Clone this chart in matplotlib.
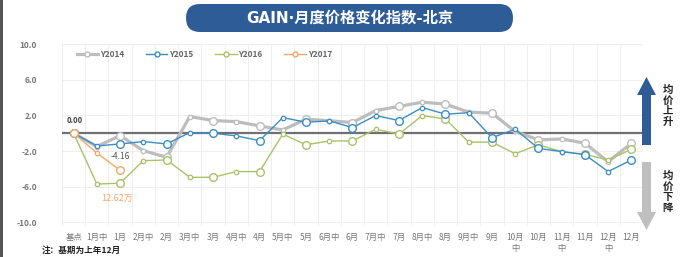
import matplotlib
matplotlib.use('Agg')
import matplotlib.pyplot as plt
from matplotlib.patches import FancyBboxPatch, FancyArrow, Rectangle
from matplotlib.lines import Line2D

plt.rcParams['font.family'] = ['Noto Sans CJK SC', 'DejaVu Sans']

# ── 数据 ──
categories = ['基点', '1月中', '1月', '2月中', '2月', '3月中', '3月', '4月中', '4月',
              '5月中', '5月', '6月中', '6月', '7月中', '7月', '8月中', '8月', '9月中',
              '9月', '10月\n中', '10月', '11月\n中', '11月', '12月\n中', '12月']
y2014 = [0, -1.5, -0.27, -1.95, -2.7, 1.87, 1.42, 1.3, 0.82, 0.37, 1.57, 1.4, 1.2,
         2.54, 3.0, 3.48, 3.26, 2.36, 2.25, 0.2, -0.75, -0.64, -1.12, -3.2, -1.12]
y2015 = [0, -1.43, -1.2, -0.94, -1.2, 0.07, 0.0, -0.3, -0.83, 1.75, 1.23, 1.38, 0.63,
         1.98, 1.42, 2.88, 2.13, 2.3, -0.5, 0.45, -1.7, -2.06, -2.4, -4.3, -3.0]
y2016 = [0, -5.7, -5.6, -3.08, -3.0, -4.94, -4.94, -4.3, -4.3, -0.1, -1.3, -0.87, -0.87,
         0.45, -0.1, 1.98, 1.6, -1.0, -1.0, -2.3, -1.3, -2.06, -2.36, -3.0, -1.8]
y2017 = [0, -2.2, -4.16]
yticks = [10, 6, 2, -2, -6, -10]

series = [
    ('Y2014', y2014, '#BDBDBD', 2.3, 1),
    ('Y2015', y2015, '#3C8DC4', 1.0, 3),
    ('Y2016', y2016, '#A8C26A', 1.0, 2),
    ('Y2017', y2017, '#F2A86A', 1.0, 4),
]

fig = plt.figure(figsize=(7, 2.57), dpi=100)
ax = fig.add_axes([62 / 700, 1 - 226 / 257, 581 / 700, 182 / 257])

x = list(range(len(categories)))
for name, vals, color, lw, z in series:
    xs = x[:len(vals)]
    ax.plot(xs, vals, '-', color=color, lw=lw, zorder=z)
    big = [i for i in xs if i % 2 == 0]
    small = [i for i in xs if i % 2 == 1]
    ax.plot(big, [vals[i] for i in big], 'o', ms=5.5, mfc='white', mec=color, mew=1.0,
            ls='none', zorder=z + 0.5)
    ax.plot(small, [vals[i] for i in small], 'o', ms=3.2, mfc='white', mec=color, mew=0.9,
            ls='none', zorder=z + 0.5)

ax.axhline(0, color='#707070', lw=1.6, zorder=0.8)

ax.set_xlim(-0.5, len(categories) - 0.5)
ax.set_ylim(-10.4, 10.0)
ax.set_yticks(yticks)
ax.set_yticklabels([f'{v:.1f}' for v in yticks], fontsize=6, color='#777777', fontweight='bold')
ax.set_xticks(x)
ax.set_xticklabels(categories, fontsize=6, color='#777777', linespacing=1.3)
ax.set_xticks([i - 0.5 for i in range(len(categories) + 1)], minor=True)
ax.tick_params(axis='both', length=0, which='both')
ax.tick_params(axis='y', pad=18)
ax.tick_params(axis='x', pad=5)
ax.grid(True, which='minor', axis='x', color='#EEEEEE', lw=0.7)
ax.grid(True, which='major', axis='y', color='#EEEEEE', lw=0.7)
ax.set_axisbelow(True)
for s in ax.spines.values():
    s.set_visible(False)

# 标注
ax.text(-0.3, 1.2, '0.00', fontsize=5.5, color='#444444', fontweight='bold')
ax.text(1.6, -2.9, '-4.16', fontsize=6, color='#555555')
ax.text(1.2, -7.6, '12.62万', fontsize=6.5, color='#F2A86A')

# 图例
handles = [Line2D([0], [0], color=c, lw=lw, marker='o', ms=3.5, mfc='white', mec=c)
           for _, _, c, lw, _ in series]
leg = ax.legend(handles, [s[0] for s in series], loc='upper left', bbox_to_anchor=(0.015, 1.0),
                ncol=4, frameon=False, fontsize=6, handlelength=2.6, handletextpad=0.2,
                columnspacing=2.6, borderaxespad=0.3)
for t in leg.get_texts():
    t.set_color('#666666')
    t.set_fontweight('bold')

# ── 覆盖层：标题、箭头、注释 ──
ov = fig.add_axes([0, 0, 1, 1], zorder=5)
ov.set_xlim(0, 700)
ov.set_ylim(257, 0)
ov.axis('off')
ov.patch.set_alpha(0)

ov.add_patch(FancyBboxPatch((186, 4), 327, 28, boxstyle='round,pad=0,rounding_size=14',
                            facecolor='#2D5C97', edgecolor='none'))
ov.text(350, 18, 'GAIN·月度价格变化指数-北京', ha='center', va='center', fontsize=11,
        color='white', fontweight='bold', family=['DejaVu Sans', 'Noto Sans CJK SC'])

ov.add_patch(FancyArrow(646.5, 145, 0, -50, width=9, head_width=19, head_length=18,
                        length_includes_head=False, facecolor='#2D5C97', edgecolor='none'))
ov.add_patch(FancyArrow(646.5, 162, 0, 50, width=9, head_width=19, head_length=18,
                        length_includes_head=False, facecolor='#BFBFBF', edgecolor='none'))
ov.text(668, 106, '均\n价\n上\n升', ha='center', va='center', fontsize=7.5, color='#222222',
        fontweight='bold', linespacing=1.05)
ov.text(668, 192, '均\n价\n下\n降', ha='center', va='center', fontsize=7.5, color='#222222',
        fontweight='bold', linespacing=1.05)

ov.text(42, 250, '注：基期为上年12月', ha='left', va='center', fontsize=6.2, color='#222222',
        fontweight='bold')
ov.add_patch(Rectangle((0, 0), 2.5, 257, facecolor='#555555', edgecolor='none'))

fig.savefig('out.png', dpi=100, facecolor='white')
